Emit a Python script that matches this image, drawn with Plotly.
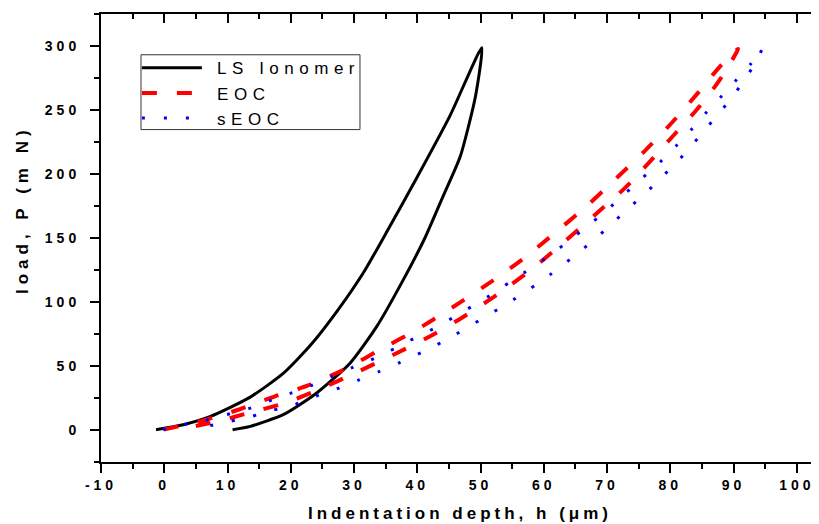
import plotly.graph_objects as go

# LS Ionomer loop: loading branch up to the peak, then unloading branch back down
ls_depth = [-1.3, 3.0, 7.3, 13.6, 18.8, 23.1, 27.3, 31.5, 35.2, 39.9, 45.2, 50.2,
            49.2, 46.8, 44.1, 41.2, 37.8, 33.6, 29.4, 24.1, 18.8, 13.6, 10.8]
ls_load = [0, 3.9, 10.4, 25.5, 44, 66, 92.6, 123, 155, 197, 246, 299,
           261, 214, 183, 150, 117.4, 80.8, 52.2, 28.7, 11.7, 2.6, 0]

# EOC loop
eoc_depth = [-0.1, 6.2, 11.7, 17.5, 23.1, 28.9, 34.1, 39.9, 45.4, 51.0, 56.8, 62.0, 67.0,
             71.5, 75.9, 80.2, 84.1, 87.8, 90.7,
             87.8, 84.4, 80.6, 76.8, 72.8, 68.1, 63.3, 58.3, 52.6, 47.0, 41.5, 35.7,
             30.2, 24.6, 19.1, 13.3, 7.8, 4.0]
eoc_load = [0, 7.3, 15.6, 26.1, 35.2, 48.3, 62.6, 78.2, 95.2, 113.5, 134, 155, 176,
            197, 217.8, 240, 262, 284, 298,
            273.7, 251.7, 230.8, 210, 189, 168.2, 147.3, 126.5, 105.6, 87.4, 71.7, 57.4,
            44.4, 31.8, 20.9, 13, 5.7, 2]

# sEOC loop
seoc_depth = [-0.2, 3.0, 6.5, 9.8, 13.2, 16.4, 19.8, 23.2, 26.5, 29.9, 33.3, 36.6, 39.9,
              43.3, 46.8, 50.2, 53.5, 56.8, 60.2, 63.5, 66.8, 69.9, 72.8, 75.6, 78.4,
              80.9, 83.3, 85.6, 87.9, 90.2, 92.6, 94.5,
              93.2, 91.5, 89.7, 87.6, 85.5, 83.3, 81.0, 78.5, 75.9, 73.0, 70.3, 67.3,
              64.2, 61.0, 57.6, 54.2, 50.8, 47.3, 44.1, 40.7, 37.3, 34.0, 30.6, 27.2,
              23.9, 20.6, 17.1, 13.8, 10.4, 7.2, 5.5]
seoc_load = [0, 3.9, 7.3, 11.7, 16.2, 22.1, 28.2, 34.4, 41.7, 49, 56, 63.9, 72.5,
             80.8, 91.3, 100.9, 111.7, 122.6, 133.8, 146, 159, 171.4, 184.6, 197, 209.5,
             222, 234.7, 247.8, 260, 272.5, 285.6, 298,
             285, 272.5, 259.5, 247.3, 234.7, 222, 209.2, 197, 184.2, 171.6, 159, 146,
             133.5, 121.3, 109.5, 98.6, 88.5, 78.2, 69, 60.5, 52.7, 45.6, 38.6, 31.8,
             26.1, 19.6, 15.1, 10.4, 6.5, 3.1, 1.5]

x_ticks = [-10, 0, 10, 20, 30, 40, 50, 60, 70, 80, 90, 100]
y_ticks = [0, 50, 100, 150, 200, 250, 300]
x_range = [-10, 103.5]
y_range = [-25.3, 325.3]

FONT = "Liberation Sans, Arial, sans-serif"


def spaced(s, gap=4):
    return f'<span style="letter-spacing:{gap}px">{s}</span>'


fig = go.Figure()
fig.add_trace(go.Scatter(x=ls_depth, y=ls_load, mode='lines', name=spaced('\u00a0LS Ionomer', 5.5),
                         line=dict(color='black', width=3, shape='spline', smoothing=0.6)))
fig.add_trace(go.Scatter(x=eoc_depth, y=eoc_load, mode='lines', name=spaced('\u00a0EOC', 5.5),
                         line=dict(color='#ff0000', width=4, dash='15px,20px',
                                   shape='spline', smoothing=0.7)))
fig.add_trace(go.Scatter(x=seoc_depth, y=seoc_load, mode='lines', name=spaced('\u00a0sEOC', 5.5),
                         line=dict(color='#0000ff', width=3, dash='3px,19px',
                                   shape='spline', smoothing=0.7)))
# empty trace so the top/right tick axes get drawn
fig.add_trace(go.Scatter(x=[], y=[], xaxis='x2', yaxis='y2', showlegend=False, hoverinfo='skip'))

tick_font = dict(family=FONT, size=14, color='black', weight='bold')

# the page body adds an 8px offset, so the figure is 8px smaller than the window
fig.update_layout(
    width=811, height=516,
    margin=dict(l=93, r=0, t=6, b=62, autoexpand=False),
    paper_bgcolor='white', plot_bgcolor='white',
    showlegend=True,
    legend=dict(x=0.050, y=0.919, xanchor='left', yanchor='top',
                bgcolor='rgba(0,0,0,0)', borderwidth=0,
                font=dict(family=FONT, size=17, color='black'),
                itemwidth=60, tracegroupgap=0),
    shapes=[dict(type='rect', xref='paper', yref='paper', x0=0.0557, x1=0.3607,
                 y0=0.742, y1=0.909, line=dict(color='#333', width=1),
                 fillcolor='white', layer='above')],
    xaxis=dict(range=x_range, autorange=False, automargin=False, showgrid=False, zeroline=False,
               showline=True, linecolor='black', linewidth=2,
               ticks='outside', ticklen=9, tickwidth=2, tickcolor='black',
               tickvals=x_ticks, ticktext=[spaced(str(v)) for v in x_ticks],
               tickfont=tick_font,
               minor=dict(dtick=5, tick0=0, ticks='outside', ticklen=5, tickwidth=2, tickcolor='black')),
    yaxis=dict(range=y_range, autorange=False, automargin=False, showgrid=False, zeroline=False,
               showline=True, linecolor='black', linewidth=2,
               ticks='outside', ticklen=9, tickwidth=2, tickcolor='black',
               tickvals=y_ticks, ticktext=[spaced(str(v)) for v in y_ticks],
               tickfont=tick_font, ticklabelstandoff=7,
               minor=dict(dtick=25, tick0=0, ticks='outside', ticklen=5, tickwidth=2, tickcolor='black')),
    xaxis2=dict(overlaying='x', side='top', range=x_range, autorange=False, automargin=False,
                showgrid=False, zeroline=False, showticklabels=False,
                showline=True, linecolor='black', linewidth=2,
                ticks='inside', ticklen=9, tickwidth=2, tickcolor='black', tickvals=x_ticks,
                minor=dict(dtick=5, tick0=0, ticks='inside', ticklen=5, tickwidth=2, tickcolor='black')),
    yaxis2=dict(overlaying='y', side='right', range=y_range, autorange=False, automargin=False,
                showgrid=False, zeroline=False, showticklabels=False, showline=False,
                ticks='inside', ticklen=2, tickwidth=2, tickcolor='black', tickvals=y_ticks),
    annotations=[
        dict(text=spaced('Indentation depth, h (μm)'), xref='paper', yref='paper',
             x=0.5, y=-0.116, xanchor='center', yanchor='middle', showarrow=False,
             font=dict(family=FONT, size=17, color='black', weight='bold')),
        dict(text=spaced('load, P (m N)', 5), xref='paper', yref='paper',
             x=-0.11, y=0.5625, xanchor='center', yanchor='middle', showarrow=False,
             textangle=-90,
             font=dict(family=FONT, size=17, color='black', weight='bold')),
    ],
)

fig.write_html("out.html")
